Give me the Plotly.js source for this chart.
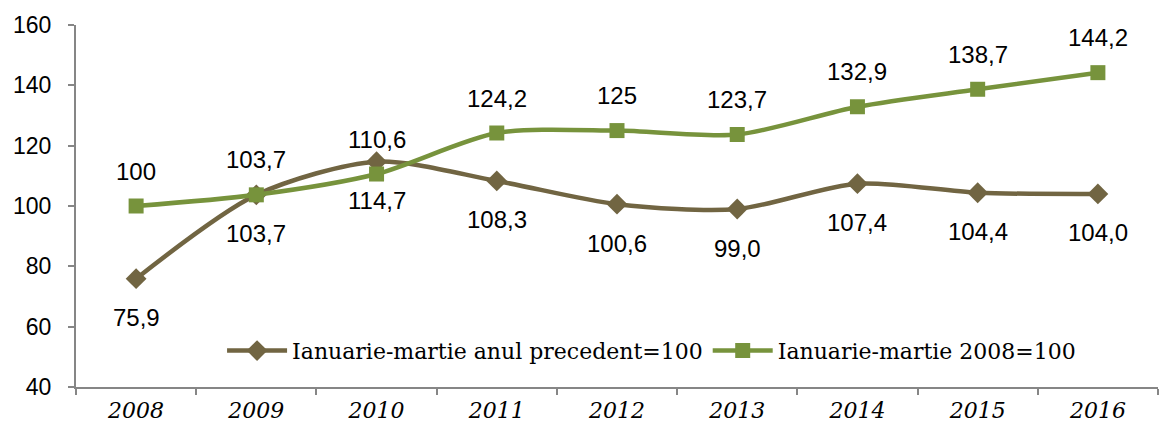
<!DOCTYPE html>
<html><head><meta charset="utf-8">
<script src="https://cdn.plot.ly/plotly-3.0.1.min.js"></script>
<style>body{margin:0;background:#fff}#c{width:1167px;height:432px}</style>
</head><body><div id="c"></div>
<script>
const years = ["2008","2009","2010","2011","2012","2013","2014","2015","2016"];
const prevYear = [75.9,103.7,114.7,108.3,100.6,99.0,107.4,104.4,104.0];
const prevYearLabels = ["75,9","103,7","114,7","108,3","100,6","99,0","107,4","104,4","104,0"];
const base2008 = [100,103.7,110.6,124.2,125,123.7,132.9,138.7,144.2];
const base2008Labels = ["100","103,7","110,6","124,2","125","123,7","132,9","138,7","144,2"];
const yTicks = [40,60,80,100,120,140,160];
const names = ["Ianuarie-martie anul precedent=100","Ianuarie-martie 2008=100"];

const brown = "#716542", green = "#77933C";
const traces = [
  {x: years, y: prevYear, name: names[0], type: "scatter", mode: "lines+markers",
   line: {color: brown, width: 4.5, shape: "spline", smoothing: 0.8},
   marker: {symbol: "diamond", size: 16, color: brown}},
  {x: years, y: base2008, name: names[1], type: "scatter", mode: "lines+markers",
   line: {color: green, width: 4.5, shape: "spline", smoothing: 0.8},
   marker: {symbol: "square", size: 15, color: green}}
];
const lblFont = {family: "Liberation Sans, Arial, sans-serif", size: 24, color: "#000"};
const annotations = [];
years.forEach((yr, i) => {
  annotations.push({x: i, y: prevYear[i], xref: "x", yref: "y", text: prevYearLabels[i], showarrow: false, yshift: -39, font: lblFont});
  annotations.push({x: i, y: base2008[i], xref: "x", yref: "y", text: base2008Labels[i], showarrow: false, yshift: 35, font: lblFont});
});
const layout = {
  width: 1167, height: 432,
  margin: {l: 76, r: 9, t: 25, b: 45},
  paper_bgcolor: "#fff", plot_bgcolor: "#fff",
  showlegend: true,
  legend: {orientation: "h", x: 0.135, y: 0.1, xanchor: "left", yanchor: "middle",
           font: {family: "DejaVu Serif, serif", size: 22, color: "#000"},
           bgcolor: "rgba(0,0,0,0)", itemwidth: 60, traceorder: "normal"},
  xaxis: {type: "category", range: [-0.5, 8.5], showgrid: false, zeroline: false,
          showline: true, linecolor: "#868686", linewidth: 2,
          ticks: "outside", tickson: "boundaries", ticklen: 6, tickcolor: "#868686", tickwidth: 2,
          ticklabelstandoff: 3,
          tickfont: {family: "DejaVu Serif, serif", size: 22, color: "#000", style: "italic"}},
  yaxis: {range: [40, 160], tickvals: yTicks, showgrid: false, zeroline: false,
          showline: true, linecolor: "#868686", linewidth: 2,
          ticks: "outside", ticklen: 6, tickcolor: "#868686", tickwidth: 2,
          ticklabelstandoff: 12,
          tickfont: {family: "Liberation Sans, Arial, sans-serif", size: 23, color: "#000"}},
  annotations: annotations
};
Plotly.newPlot("c", traces, layout, {staticPlot: true});
</script></body></html>
